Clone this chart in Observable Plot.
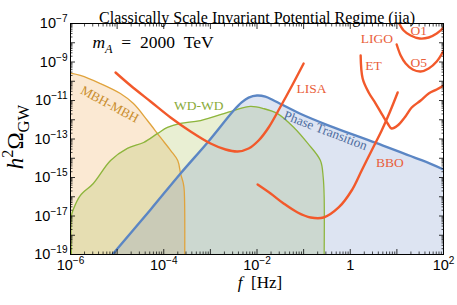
<!DOCTYPE html>
<html><head><meta charset="utf-8">
<script src="https://cdn.jsdelivr.net/npm/d3@7"></script>
<script src="https://cdn.jsdelivr.net/npm/@observablehq/plot@0.6"></script>
<style>body{margin:0;background:#fff} svg{display:block}</style>
</head><body><div id="chart"></div>
<script>
// ---- data (log10 f [Hz], log10 h^2 Omega_GW) ----
const mbhLogF = [-6, -5.79, -5.36, -4.93, -4.65, -4.35, -4.07, -3.85, -3.70, -3.64, -3.58, -3.56, -3.55];
const mbhLogO = [-9.58, -9.70, -10.12, -10.64, -11.16, -12.04, -12.92, -13.60, -14.12, -14.79, -15.31, -15.7, -19];

const wdLogF = [-5.98, -5.98, -5.93, -5.79, -5.51, -5.14, -4.78, -4.43, -4.13, -3.92, -3.64, -3.21, -2.50, -2.14, -1.86, -1.56, -1.21, -0.91, -0.64, -0.58, -0.56, -0.56];
const wdLogO = [-19, -17.0, -16.6, -15.94, -15.31, -14.12, -13.49, -13.18, -12.71, -12.40, -12.19, -12.04, -11.52, -11.31, -11.42, -11.68, -12.40, -13.23, -14.12, -15.0, -16.0, -19];

const ptLogF = [-5.10, -4.28, -3.64, -3.06, -2.50, -2.33, -2.18, -2.0, -1.82, -1.64, -1.06, -0.46, 0.55, 1.53, 2.0];
const ptLogO = [-19, -16.66, -14.79, -13.18, -11.52, -11.1, -10.85, -10.74, -10.8, -11.0, -11.7, -12.3, -13.2, -14.1, -14.58];

const lisaLogF = [-5.034, -4.712, -4.283, -3.854, -3.425, -2.996, -2.674, -2.416, -2.180, -1.966, -1.751, -1.494, -1.236, -1.0];
const lisaLogO = [-9.545, -10.221, -11.052, -11.883, -12.610, -13.234, -13.545, -13.649, -13.494, -13.078, -12.403, -11.312, -10.169, -9.078];

const bboLogF = [-1.987, -1.708, -1.429, -1.129, -0.850, -0.571, -0.249, 0.030, 0.245, 0.459, 0.674, 0.845, 1.017];
const bboLogO = [-15.364, -15.831, -16.351, -16.818, -17.078, -17.078, -16.558, -15.675, -14.636, -13.597, -12.558, -11.623, -10.584];

const etLogF = [0.223, 0.266, 0.395, 0.545, 0.695, 0.803, 0.888, 1.017, 1.167, 1.318, 1.511, 1.682, 1.854, 2.004];
const etLogO = [-8.662, -9.857, -10.584, -11.156, -11.779, -12.195, -12.455, -12.299, -11.883, -11.364, -11.0, -10.636, -10.429, -10.221];

const o1LogF = [1.017, 1.146, 1.296, 1.489, 1.682, 1.854, 2.004];
const o1LogO = [-6.844, -7.364, -7.623, -7.779, -7.727, -7.519, -7.208];

const o5LogF = [0.996, 1.082, 1.189, 1.339, 1.511, 1.682, 1.854, 2.004];
const o5LogO = [-8.091, -8.662, -9.078, -9.390, -9.494, -9.338, -8.974, -8.403];

const labelText = ["MBH-MBH", "WD-WD", "Phase Transition", "LISA", "BBO", "LIGO", "ET", "O1", "O5"];
const labelKind = ["mbh", "wd", "pt", "det", "det", "det", "det", "det", "det"];
const labelLogF = [-5.16, -3.25, -0.53, -0.83, 0.85, 0.57, 0.50, 1.47, 1.47];
const labelLogO = [-11.2, -11.26, -12.56, -10.38, -14.22, -7.78, -9.18, -7.36, -9.03];

const xMajorExp = [-6, -5, -4, -3, -2, -1, 0, 1, 2];
const yMajorExp = [-19, -18, -17, -16, -15, -14, -13, -12, -11, -10, -9, -8, -7];
const xLabelExp = [-6, -4, -2, 0, 2];
const yLabelExp = [-19, -17, -15, -13, -11, -9, -7];

const titleText = "Classically Scale Invariant Potential Regime (iia)";
const massText = "mA = 2000 TeV";
const massLogF = -5.53, massLogO = -7.99;

// ---- build ----
const pts = (lf, lo) => lf.map((f, i) => ({f: 10 ** f, o: 10 ** lo[i]}));
const mbh = pts(mbhLogF, mbhLogO), wd = pts(wdLogF, wdLogO), pt = pts(ptLogF, ptLogO);
const detectors = [["LISA", lisaLogF, lisaLogO], ["BBO", bboLogF, bboLogO], ["ET", etLogF, etLogO], ["O1", o1LogF, o1LogO], ["O5", o5LogF, o5LogO]]
  .flatMap(([name, lf, lo]) => lf.map((f, i) => ({name, f: 10 ** f, o: 10 ** lo[i]})));
const labels = labelText.map((t, i) => ({t, kind: labelKind[i], f: 10 ** labelLogF[i], o: 10 ** labelLogO[i]}));

const majorX = xMajorExp.map(k => 10 ** k);
const majorY = yMajorExp.map(k => 10 ** k);
const minorX = xMajorExp.slice(0, -1).flatMap(k => d3.range(2, 10).map(m => m * 10 ** k));
const minorY = yMajorExp.slice(0, -1).flatMap(k => d3.range(2, 10).map(m => m * 10 ** k));
const fmt = v => { const e = Math.round(Math.log10(v)); return e === 0 ? "1" : "10^" + (e < 0 ? "\u2212" + (-e) : String(e)); };
const blank = () => "";

const C = {mbh: "#e0a33c", wd: "#8db53c", pt: "#5b86c4", det: "#f2592b"};
const LC = {mbh: "#c98d2c", wd: "#8aab3a", pt: "#4d6d9f", det: "#e9603a"};
const rot = {mbh: 28, pt: 21};
const serif = "Liberation Serif, Times New Roman, serif";
const sans = "Liberation Sans, Arial, sans-serif";

const tickAxes = [];
for (const [anchor, kind] of [["bottom", "x"], ["top", "x"], ["left", "y"], ["right", "y"]]) {
  const ax = kind === "x" ? Plot.axisX : Plot.axisY;
  tickAxes.push(ax(kind === "x" ? majorX : majorY, {anchor, tickSize: -5, tickFormat: blank, label: null, strokeWidth: 0.8}));
  tickAxes.push(ax(kind === "x" ? minorX : minorY, {anchor, tickSize: -2.5, tickFormat: blank, label: null, strokeWidth: 0.7}));
}

const plot = Plot.plot({
  width: 457, height: 305,
  marginLeft: 70, marginRight: 14, marginTop: 23, marginBottom: 51,
  x: {type: "log", domain: [1e-6, 1e2]},
  y: {type: "log", domain: [1e-19, 1e-7]},
  style: {fontFamily: serif, background: "white", color: "black"},
  marks: [
    Plot.areaY(mbh, {x: "f", y1: 1e-19, y2: "o", fill: "#f0b060", fillOpacity: 0.28, curve: "catmull-rom", clip: true}),
    Plot.areaY(wd, {x: "f", y1: 1e-19, y2: "o", fill: "#a8c050", fillOpacity: 0.25, curve: "catmull-rom", clip: true}),
    Plot.areaY(pt, {x: "f", y1: 1e-19, y2: "o", fill: "#7090c8", fillOpacity: 0.24, curve: "catmull-rom", clip: true}),
    Plot.line(mbh, {x: "f", y: "o", stroke: C.mbh, strokeWidth: 1.3, curve: "catmull-rom", clip: true}),
    Plot.line(wd, {x: "f", y: "o", stroke: C.wd, strokeWidth: 1.3, curve: "catmull-rom", clip: true}),
    Plot.line(pt, {x: "f", y: "o", stroke: C.pt, strokeWidth: 2.4, curve: "catmull-rom", clip: true}),
    Plot.line(detectors, {x: "f", y: "o", z: "name", stroke: C.det, strokeWidth: 2.4, curve: "catmull-rom", clip: true}),
    Plot.frame({stroke: "black", strokeWidth: 1}),
    ...tickAxes,
    Plot.axisX(xLabelExp.map(k => 10 ** k), {anchor: "bottom", tickSize: 0, tickPadding: 5, tickFormat: fmt, label: null, fontSize: 14.5, fontFamily: sans}),
    Plot.axisY(yLabelExp.map(k => 10 ** k), {anchor: "left", tickSize: 0, tickPadding: 3, tickFormat: fmt, label: null, fontSize: 14.5, fontFamily: sans}),
    Plot.text(labels.filter(d => d.kind !== "pt" && d.kind !== "mbh"), {x: "f", y: "o", text: "t", fill: d => LC[d.kind], fontSize: 13.5}),
    Plot.text(labels.filter(d => d.kind === "mbh"), {x: "f", y: "o", text: "t", fill: LC.mbh, rotate: rot.mbh, fontSize: 13}),
    Plot.text(labels.filter(d => d.kind === "pt"), {x: "f", y: "o", text: "t", fill: LC.pt, rotate: rot.pt, fontSize: 13.3}),
    Plot.text([massText], {x: () => 10 ** massLogF, y: () => 10 ** massLogO, text: d => d, textAnchor: "start", fontSize: 17.5}),
    Plot.text([titleText], {frameAnchor: "top", dy: -12, fontSize: 16}),
    Plot.text(["h2\u03A9GW"], {frameAnchor: "left", textAnchor: "middle", dx: -55, dy: -2, rotate: -90, fontSize: 23}),
    Plot.text(["f [Hz]"], {frameAnchor: "bottom", dx: 3, dy: 33, fontSize: 17})
  ],
  color: {type: "identity"}
});

// ---- rich text (sub/superscripts, italics) ----
const NS = "http://www.w3.org/2000/svg";
function rich(t, parts, base) {
  t.textContent = "";
  let shift = 0;
  for (const p of parts) {
    const s = document.createElementNS(NS, "tspan");
    s.textContent = p.t;
    const target = p.sup ? -0.42 * base : p.sub ? 0.28 * base : 0;
    if (target !== shift) { s.setAttribute("dy", (target - shift).toFixed(2)); shift = target; }
    if (p.sup || p.sub) s.setAttribute("font-size", ((p.k || 0.7) * base).toFixed(1));
    if (p.i) s.setAttribute("font-style", "italic");
    t.appendChild(s);
  }
}
plot.querySelectorAll("text").forEach(t => {
  const s = t.textContent;
  if (/^10\^/.test(s)) rich(t, [{t: "10"}, {t: s.slice(3), sup: true}], 14.5);
  else if (s === massText) rich(t, [{t: "m", i: true}, {t: "A", i: true, sub: true}, {t: "\u2002=\u20022000\u2002TeV"}], 17.5);
  else if (s === "h2\u03A9GW") rich(t, [{t: "h", i: true}, {t: "2", sup: true}, {t: "\u03A9"}, {t: "GW", sub: true, k: 0.72}], 23);
  else if (s === "f [Hz]") rich(t, [{t: "f", i: true}, {t: "\u2002[Hz]"}], 17);
});
document.getElementById("chart").appendChild(plot);
</script>
</body></html>
